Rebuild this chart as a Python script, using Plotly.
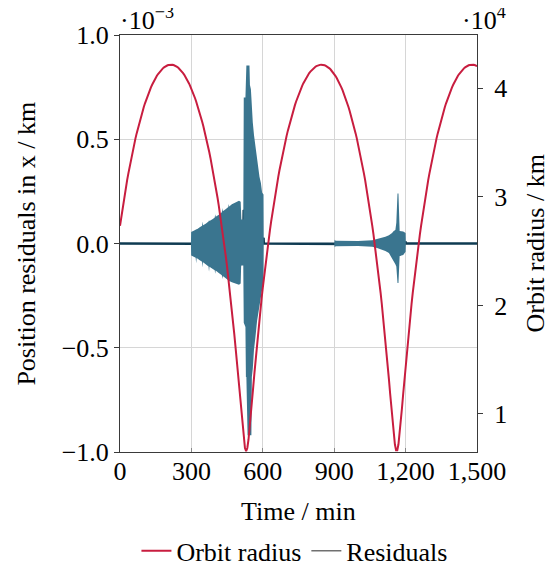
import plotly.graph_objects as go

# ---------------- data ----------------
# orbit radius (units of 10^4 km), sampled every 5 min from 0 to 1500 min
time_min = list(range(0, 1501, 5))
orbit_radius_e4km = [
    2.733, 2.810, 2.883, 2.954, 3.023, 3.089, 3.153, 3.214, 3.273, 3.330, 3.385, 3.438, 3.489, 3.538, 3.584, 3.629, 3.673, 3.714, 3.753, 3.791,
    3.827, 3.861, 3.894, 3.925, 3.954, 3.982, 4.008, 4.032, 4.055, 4.077, 4.096, 4.114, 4.131, 4.146, 4.160, 4.172, 4.183, 4.192, 4.200, 4.206,
    4.211, 4.214, 4.216, 4.216, 4.215, 4.213, 4.209, 4.203, 4.196, 4.188, 4.178, 4.166, 4.153, 4.139, 4.123, 4.106, 4.087, 4.066, 4.044, 4.020,
    3.995, 3.968, 3.940, 3.910, 3.878, 3.844, 3.809, 3.772, 3.734, 3.693, 3.651, 3.607, 3.561, 3.513, 3.464, 3.412, 3.358, 3.302, 3.244, 3.184,
    3.121, 3.056, 2.989, 2.919, 2.847, 2.772, 2.694, 2.614, 2.530, 2.444, 2.354, 2.261, 2.164, 2.064, 1.960, 1.852, 1.740, 1.625, 1.505, 1.381,
    1.254, 1.125, 0.996, 0.873, 0.765, 0.687, 0.658, 0.687, 0.765, 0.873, 0.996, 1.125, 1.254, 1.381, 1.505, 1.625, 1.740, 1.852, 1.960, 2.064,
    2.164, 2.261, 2.354, 2.444, 2.530, 2.614, 2.694, 2.772, 2.847, 2.919, 2.989, 3.056, 3.121, 3.184, 3.244, 3.302, 3.358, 3.412, 3.464, 3.513,
    3.561, 3.607, 3.651, 3.693, 3.734, 3.772, 3.809, 3.844, 3.878, 3.910, 3.940, 3.968, 3.995, 4.020, 4.044, 4.066, 4.087, 4.106, 4.123, 4.139,
    4.153, 4.166, 4.178, 4.188, 4.196, 4.203, 4.209, 4.213, 4.215, 4.216, 4.216, 4.214, 4.211, 4.206, 4.200, 4.192, 4.183, 4.172, 4.160, 4.146,
    4.131, 4.114, 4.096, 4.077, 4.055, 4.032, 4.008, 3.982, 3.954, 3.925, 3.894, 3.861, 3.827, 3.791, 3.753, 3.714, 3.673, 3.629, 3.584, 3.538,
    3.489, 3.438, 3.385, 3.330, 3.273, 3.214, 3.153, 3.089, 3.023, 2.954, 2.883, 2.810, 2.733, 2.654, 2.572, 2.487, 2.399, 2.308, 2.213, 2.115,
    2.013, 1.907, 1.797, 1.683, 1.565, 1.443, 1.318, 1.189, 1.060, 0.934, 0.817, 0.721, 0.665, 0.665, 0.721, 0.817, 0.934, 1.060, 1.189, 1.318,
    1.443, 1.565, 1.683, 1.797, 1.907, 2.013, 2.115, 2.213, 2.308, 2.399, 2.487, 2.572, 2.654, 2.733, 2.810, 2.883, 2.954, 3.023, 3.089, 3.153,
    3.214, 3.273, 3.330, 3.385, 3.438, 3.489, 3.538, 3.584, 3.629, 3.673, 3.714, 3.753, 3.791, 3.827, 3.861, 3.894, 3.925, 3.954, 3.982, 4.008,
    4.032, 4.055, 4.077, 4.096, 4.114, 4.131, 4.146, 4.160, 4.172, 4.183, 4.192, 4.200, 4.206, 4.211, 4.214, 4.216, 4.216, 4.215, 4.213, 4.209,
    4.203,
]

# position residuals in x (units of 10^-3 km): envelope of the fast oscillation
res_time_min = [
    0, 298, 299, 310, 318, 320, 322, 335, 345, 347, 349, 360, 372, 374, 376, 390, 398, 400, 402, 415,
    428, 430, 432, 445, 455, 457, 459, 470, 480, 490, 500, 507, 509, 510, 518, 520, 527, 529, 531, 536,
    544, 546, 550, 552, 554, 558, 563, 569, 576, 581, 586, 592, 597, 603, 604,
    900, 902, 906, 1000, 1060, 1080, 1100, 1115, 1130, 1143, 1150, 1157, 1161, 1163, 1166, 1170, 1173,
    1175, 1190, 1200, 1201, 1500,
]
res_upper_e3km = [
    0, 0, 0.055, 0.060, 0.066, 0.070, 0.067, 0.078, 0.085, 0.105, 0.088, 0.095, 0.105, 0.112, 0.108, 0.118, 0.125, 0.140, 0.128, 0.138,
    0.150, 0.170, 0.155, 0.165, 0.175, 0.190, 0.178, 0.188, 0.195, 0.200, 0.205, 0.200, 0.120, 0.115, 0.115, 0.700, 0.700, 0.780, 0.854, 0.854,
    0.854, 0.760, 0.740, 0.700, 0.640, 0.580, 0.520, 0.460, 0.390, 0.345, 0.320, 0.290, 0.245, 0.235, 0,
    0, 0.018, 0.013, 0.012, 0.015, 0.020, 0.025, 0.032, 0.040, 0.050, 0.060, 0.065, 0.100, 0.240, 0.240, 0.240, 0.070,
    0.060, 0.058, 0.050, 0, 0,
]
res_lower_e3km = [
    0, 0, -0.058, -0.063, -0.068, -0.095, -0.070, -0.080, -0.088, -0.115, -0.090, -0.100, -0.110, -0.135, -0.112, -0.122, -0.128, -0.145, -0.130, -0.142,
    -0.152, -0.170, -0.156, -0.166, -0.176, -0.195, -0.180, -0.186, -0.190, -0.195, -0.198, -0.192, -0.110, -0.105, -0.105, -0.380, -0.400, -0.640, -0.640, -0.920,
    -0.920, -0.920, -0.920, -0.920, -0.640, -0.600, -0.510, -0.450, -0.370, -0.330, -0.300, -0.260, -0.225, -0.180, 0,
    0, -0.018, -0.013, -0.012, -0.016, -0.021, -0.028, -0.036, -0.046, -0.075, -0.085, -0.100, -0.110, -0.110, -0.190, -0.190, -0.190,
    -0.060, -0.055, -0.040, 0, 0,
]

x_ticks = [0, 300, 600, 900, 1200, 1500]
x_tick_labels = ["0", "300", "600", "900", "1,200", "1,500"]
left_ticks = [-1.0, -0.5, 0.0, 0.5, 1.0]
left_tick_labels = ["\u22121.0", "\u22120.5", "0.0", "0.5", "1.0"]
right_ticks = [1, 2, 3, 4]
right_tick_labels = ["1", "2", "3", "4"]

# ---------------- style ----------------
FONT = "Liberation Serif, Times New Roman, serif"
FS = 26
RED = "#c81d3f"
TEAL = "#3a758f"
DARK = "#0f3b52"
GRID = "#d6d6d6"
AXIS = "#3a3a3a"

res_mid = [(u + l) / 2 for u, l in zip(res_upper_e3km, res_lower_e3km)]

fig = go.Figure()

# dark residual baseline (quiet parts)
fig.add_trace(go.Scatter(
    x=res_time_min, y=res_mid, mode="lines",
    line=dict(color=DARK, width=2.6), showlegend=False, hoverinfo="skip",
))
# oscillation band
fig.add_trace(go.Scatter(
    x=res_time_min + res_time_min[::-1],
    y=res_upper_e3km + res_lower_e3km[::-1],
    mode="lines", fill="toself", fillcolor=TEAL,
    line=dict(color=TEAL, width=0), showlegend=False, hoverinfo="skip",
))
# orbit radius on the right axis
fig.add_trace(go.Scatter(
    x=time_min, y=orbit_radius_e4km, mode="lines", yaxis="y2",
    line=dict(color=RED, width=2), name="Orbit radius", legendrank=1,
))
# legend entry for residuals
fig.add_trace(go.Scatter(
    x=[None], y=[None], mode="lines",
    line=dict(color="#707070", width=1.3), name="Residuals", legendrank=2,
))

fig.update_layout(
    width=553, height=585,
    margin=dict(l=112, r=84, t=27, b=141),
    paper_bgcolor="white", plot_bgcolor="white",
    font=dict(family=FONT, size=FS, color="black"),
    showlegend=True,
    legend=dict(
        orientation="h", x=0.49, xanchor="center", y=-0.237, yanchor="middle",
        font=dict(family=FONT, size=FS, color="black"),
        bgcolor="rgba(0,0,0,0)", itemwidth=30, tracegroupgap=0,
    ),
    xaxis=dict(
        range=[0, 1500], tickvals=x_ticks, ticktext=x_tick_labels,
        showgrid=True, gridcolor=GRID, gridwidth=1, zeroline=False,
        showline=True, linecolor=AXIS, linewidth=1, mirror=True,
        ticks="inside", ticklen=4, tickcolor="#888888", ticklabelstandoff=-4,
        tickfont=dict(family=FONT, size=FS, color="black"),
    ),
    yaxis=dict(
        range=[-1, 1], tickvals=left_ticks, ticktext=left_tick_labels,
        showgrid=True, gridcolor=GRID, gridwidth=1, zeroline=False,
        showline=True, linecolor=AXIS, linewidth=1, mirror=True,
        ticks="outside", ticklen=5, tickcolor=AXIS,
        tickfont=dict(family=FONT, size=FS, color="black"),
    ),
    yaxis2=dict(
        range=[0.65, 4.49], tickvals=right_ticks, ticktext=right_tick_labels,
        overlaying="y", side="right", showgrid=False, zeroline=False,
        showline=True, linecolor=AXIS, linewidth=1,
        ticks="outside", ticklen=5, tickcolor=AXIS, ticklabelstandoff=6,
        tickfont=dict(family=FONT, size=FS, color="black"),
    ),
    annotations=[
        dict(text="Position residuals in x / km", textangle=-90,
             xref="paper", yref="paper", x=-0.263, y=0.5,
             xanchor="center", yanchor="middle", showarrow=False,
             font=dict(family=FONT, size=FS, color="black")),
        dict(text="Orbit radius / km", textangle=-90,
             xref="paper", yref="paper", x=1.1625, y=0.5,
             xanchor="center", yanchor="middle", showarrow=False,
             font=dict(family=FONT, size=FS, color="black")),
        dict(text="Time / min",
             xref="paper", yref="paper", x=0.5, y=-0.142,
             xanchor="center", yanchor="middle", showarrow=False,
             font=dict(family=FONT, size=FS, color="black")),
        dict(text="\u00b710<sup>\u22123</sup>",
             xref="paper", yref="paper", x=-0.005, y=1.0,
             xanchor="left", yanchor="bottom", showarrow=False, yshift=-2,
             font=dict(family=FONT, size=FS, color="black")),
        dict(text="\u00b710<sup>4</sup>",
             xref="paper", yref="paper", x=1.02, y=1.0,
             xanchor="center", yanchor="bottom", showarrow=False, yshift=-2,
             font=dict(family=FONT, size=FS, color="black")),
    ],
)

fig.write_html("out.html")
